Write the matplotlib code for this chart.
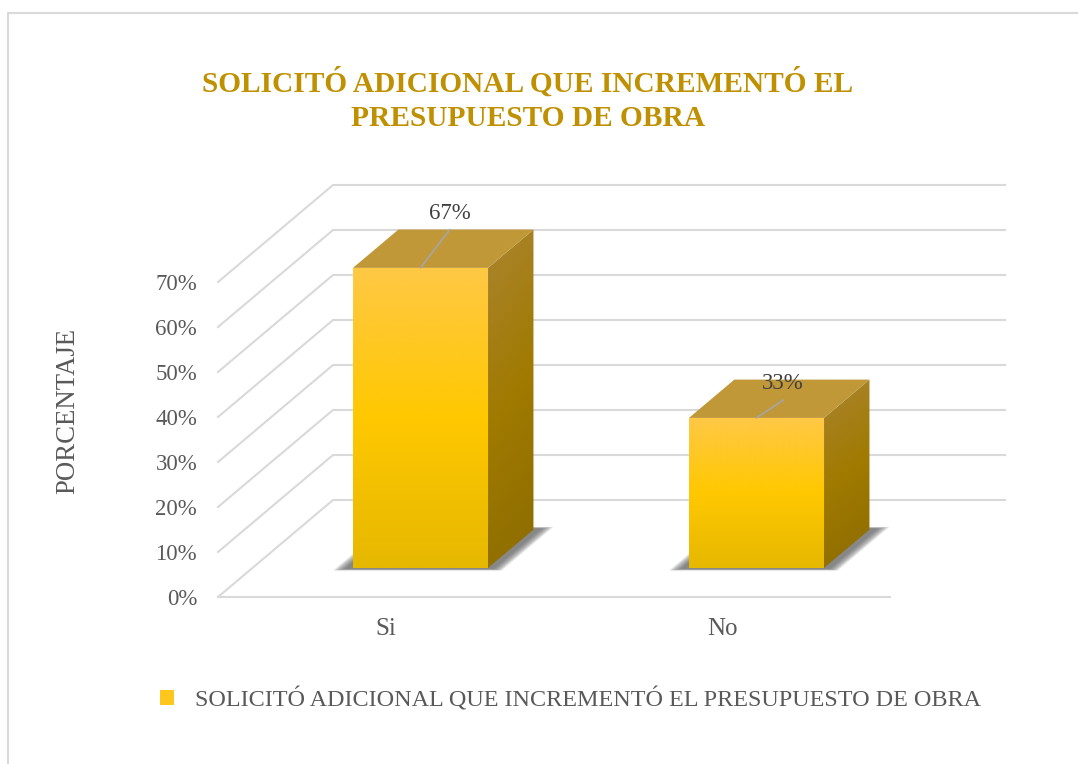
import numpy as np
import matplotlib
matplotlib.use("Agg")
import matplotlib.pyplot as plt
from matplotlib.colors import LinearSegmentedColormap
from matplotlib.lines import Line2D
from matplotlib.patches import Patch, Polygon

title = "SOLICITÓ ADICIONAL QUE INCREMENTÓ EL\nPRESUPUESTO DE OBRA"
series_name = "SOLICITÓ ADICIONAL QUE INCREMENTÓ EL PRESUPUESTO DE OBRA"
y_label = "PORCENTAJE"
categories = ["Si", "No"]
values = [66.67, 33.33]
value_labels = ["67%", "33%"]
y_ticks = [0, 10, 20, 30, 40, 50, 60, 70]

W, H = 1078, 764
plt.rcParams["font.family"] = ["Liberation Serif", "DejaVu Serif"]

# oblique depth of the floor, in data units
DEPTH_X = 115 / 336
DEPTH_Y = 97 / 4.5
# where the bars sit along that depth (0 front, 1 back wall)
BAR_D0, BAR_D1 = 0.30, 0.695
BAR_WIDTH = 0.402

GRID = "#D9D9D9"
TEXT = "#595959"

front_cmap = LinearSegmentedColormap.from_list(
    "front", [(0, "#FFC845"), (0.5, "#FFC800"), (1, "#E6B800")])
side_cmap = LinearSegmentedColormap.from_list(
    "side", [(0, "#AB8430"), (0.5, "#A07A00"), (1, "#8C6C00")])


def proj(x, y, d):
    return x + d * DEPTH_X, y + d * DEPTH_Y


def gradient_poly(ax, pts, cmap, diagonal=0.0, zorder=3):
    pts = np.array(pts)
    u, v = np.meshgrid(np.linspace(0, 1, 60), np.linspace(0, 1, 300))
    t = (1 - diagonal) * v + diagonal * u
    poly = Polygon(pts, closed=True, transform=ax.transData, fill=False, edgecolor="none")
    im = ax.imshow(t, cmap=cmap, vmin=0, vmax=1, origin="upper", aspect="auto", zorder=zorder,
                   extent=[pts[:, 0].min(), pts[:, 0].max(), pts[:, 1].min(), pts[:, 1].max()],
                   interpolation="bilinear")
    im.set_clip_path(poly)
    im.set_clip_box(fig.bbox)


fig = plt.figure(figsize=(W / 100, H / 100), dpi=100, facecolor="white")
ax = fig.add_axes([218 / W, 1 - 597 / H, 672 / W, 315 / H])
ax.patch.set_visible(False)

# outer frame, cut by the right and bottom of the picture
fig.add_artist(Line2D([8 / W, 8 / W, 1], [1 / H, 1 - 13 / H, 1 - 13 / H],
                      color=GRID, lw=1.5, transform=fig.transFigure))

x_left, x_right = -0.5, 1.5

# gridlines on side wall and back wall
for v in y_ticks:
    x1, y1 = proj(x_left, v, 1)
    x2, y2 = proj(x_right, v, 1)
    ax.plot([x_left, x1, x2], [v, y1, y2], color=GRID, lw=1.5, clip_on=False, zorder=1,
            solid_joinstyle="miter")
ax.plot([x_left, x_right], [0, 0], color=GRID, lw=1.5, clip_on=False, zorder=1)

for i, val in enumerate(values):
    xl, xr = i - BAR_WIDTH / 2, i + BAR_WIDTH / 2

    # soft shadow on the floor, stacked thin polygons fake the blur
    for m in np.linspace(0.05, 0.02, 9):
        e = m * 0.55
        shadow = [proj(xl - m, 0, BAR_D0 - e), proj(xr + m, 0, BAR_D0 - e),
                  proj(xr + m, 0, BAR_D1 + e), proj(xl - m, 0, BAR_D1 + e)]
        ax.add_patch(Polygon(shadow, closed=True, facecolor="#5A5A5A", edgecolor="none",
                             alpha=0.13, clip_on=False, zorder=2))

    gradient_poly(ax, [proj(xr, 0, BAR_D0), proj(xr, val, BAR_D0),
                       proj(xr, val, BAR_D1), proj(xr, 0, BAR_D1)], side_cmap, diagonal=0.15)
    ax.add_patch(Polygon([proj(xl, val, BAR_D0), proj(xr, val, BAR_D0),
                          proj(xr, val, BAR_D1), proj(xl, val, BAR_D1)], closed=True,
                         facecolor="#C09838", edgecolor="none", clip_on=False, zorder=3))
    gradient_poly(ax, [proj(xl, 0, BAR_D0), proj(xr, 0, BAR_D0),
                       proj(xr, val, BAR_D0), proj(xl, val, BAR_D0)], front_cmap, zorder=4)

# data labels and their leader lines, offsets in pixels from the bar top
leader_ends = [(29, 38), (27, 18)]
label_offsets = [(29, 54), (26, 34)]
for i, val in enumerate(values):
    anchor = proj(i, val, BAR_D0)
    ax.annotate("", xy=anchor, xytext=leader_ends[i], textcoords="offset pixels",
                arrowprops=dict(arrowstyle="-", color="#A6A6A6", lw=1.2, shrinkA=0, shrinkB=0),
                annotation_clip=False, zorder=5)
    ax.annotate(value_labels[i], xy=anchor, xytext=label_offsets[i], textcoords="offset pixels",
                ha="center", va="center", fontsize=16.5, color="#404040",
                annotation_clip=False, zorder=6)

ax.set_xlim(x_left, x_right)
ax.set_ylim(0, 70)
ax.set_xticks(range(len(categories)), categories)
ax.set_yticks(y_ticks, [f"{v}%" for v in y_ticks])
ax.tick_params(axis="y", length=0, pad=15, labelsize=16.5, labelcolor=TEXT)
ax.tick_params(axis="x", length=0, pad=15, labelsize=18, labelcolor=TEXT)
for s in ax.spines.values():
    s.set_visible(False)

ax.set_ylabel(y_label, fontsize=19.3, color=TEXT)
ax.yaxis.set_label_coords((80 - 218) / 672, (597 - 411) / 315)

fig.suptitle(title, x=528 / W, y=1 - 100 / H, va="center", ha="center", fontsize=21.2,
             fontweight="bold", color="#BF9000", linespacing=1.34)

fig.legend(handles=[Patch(facecolor="#FFC61E", edgecolor="none", label=series_name)],
           loc="center left", bbox_to_anchor=(160 / W, 1 - 699 / H), frameon=False,
           fontsize=17.35, labelcolor=TEXT, handlelength=0.58, handleheight=0.58,
           handletextpad=0.87, borderpad=0, borderaxespad=0)

fig.savefig("out.png", dpi=100, facecolor="white")
